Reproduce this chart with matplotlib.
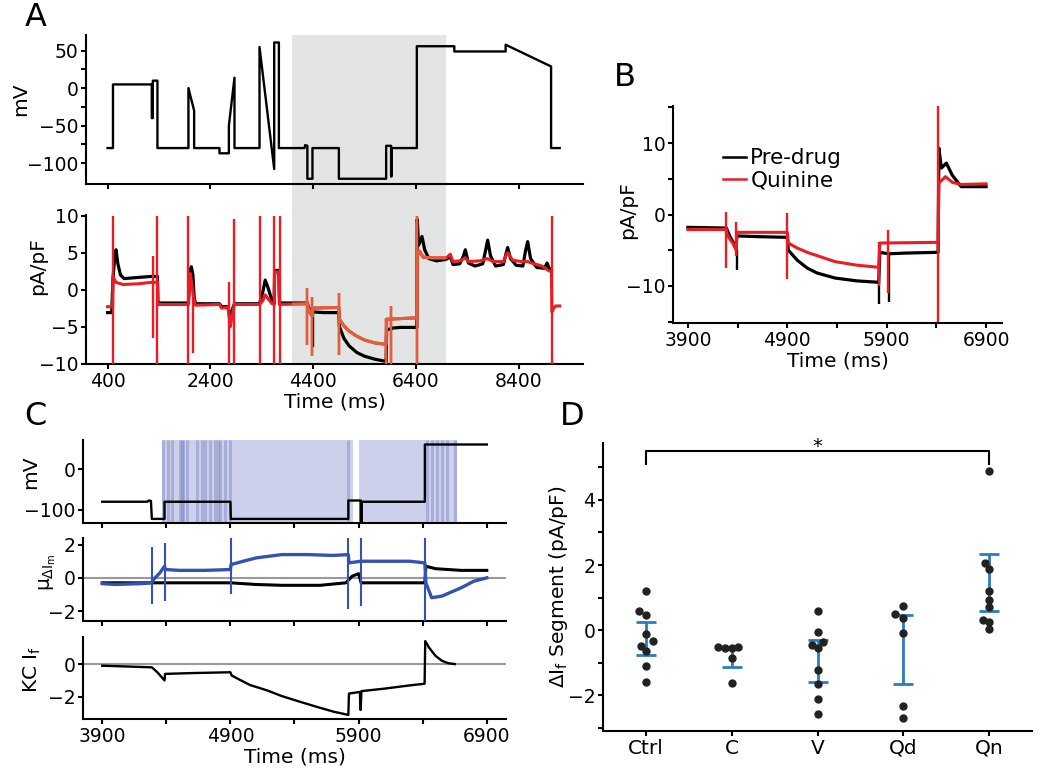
import matplotlib
matplotlib.use('Agg')
import matplotlib.pyplot as plt

plt.rcParams['font.family'] = ['DejaVu Sans']
plt.rcParams['mathtext.fontset'] = 'dejavusans'
plt.rcParams['axes.linewidth'] = 1.5

RED = '#ec1c24'
ORANGE = '#e0603c'
BLUE = '#3552b0'
EBLUE = '#2b7bbf'
SHADE = '#e3e4e4'
LAV = '#ccd0ea'

# ---- panel A: voltage protocol (ms, mV)
a_prot = [(400, -80), (505, -80), (505, 5), (1260, 5), (1260, -40), (1280, -40), (1280, 10),
          (1370, 10), (1370, -80), (1973, -80), (1973, 0), (2084, -30), (2084, -80), (2577, -80),
          (2577, -87), (2760, -87), (2760, -50), (2869, 14), (2869, -80), (3356, -80), (3356, 55),
          (3642, -108), (3642, 61), (3733, 61), (3733, -80), (4232, -80), (4245, -76), (4287, -77),
          (4287, -121), (4386, -121), (4386, -80), (4900, -80), (4900, -121), (5820, -121),
          (5820, -77), (5916, -77), (5916, -118), (5925, -118), (5925, -80), (6417, -80),
          (6417, 56), (7146, 56), (7146, 49), (8145, 49), (8145, 58), (9029, 29), (9029, -80),
          (9197, -80)]

# ---- panel A: current traces (ms, pA/pF)
a_black = [(400, -3.1), (480, -3.1), (505, 1.5), (540, 4.5), (565, 5.4), (600, 3.5), (650, 2.0),
           (720, 1.5), (900, 1.6), (1260, 1.8), (1370, 1.8), (1380, -1.8), (1973, -1.8),
           (2000, 2.5), (2030, 3.1), (2060, 2.0), (2084, -1.0), (2110, -1.9), (2577, -1.9),
           (2620, -2.3), (2740, -2.3), (2780, -3.8), (2830, -2.6), (2869, -1.9), (3356, -1.9),
           (3420, -0.3), (3467, 1.3), (3520, 0.3), (3600, -1.5), (3642, -1.8), (3650, 2.6),
           (3730, 2.6), (3745, -1.8), (4287, -1.8), (4300, -2.2), (4350, -3.0), (4386, -3.4),
           (4395, -3.0), (4600, -3.1), (4900, -3.1), (4910, -5.0), (5000, -6.6), (5100, -7.6),
           (5250, -8.5), (5400, -9.0), (5600, -9.4), (5820, -9.7), (5830, -5.4), (5916, -5.3),
           (5930, -5.2), (6100, -5.1), (6417, -5.1), (6425, 9.5), (6450, 6.0), (6517, 7.2),
           (6570, 5.4), (6650, 4.2), (6800, 3.9), (6990, 4.1), (7068, 4.5), (7120, 3.4),
           (7250, 3.5), (7320, 4.5), (7361, 5.4), (7420, 3.6), (7550, 3.2), (7700, 3.5),
           (7760, 5.5), (7795, 6.7), (7850, 4.6), (7950, 3.2), (8100, 3.4), (8150, 4.8),
           (8184, 5.7), (8240, 4.2), (8350, 3.3), (8480, 3.2), (8530, 5.2), (8573, 6.5),
           (8630, 4.2), (8750, 3.0), (8900, 2.9), (8951, 3.6), (8990, 2.9), (9035, 2.7)]
a_red = [(400, -2.3), (500, -2.3), (505, 1.8), (560, 1.0), (700, 0.7), (1000, 0.8), (1260, 1.0),
         (1370, 1.0), (1380, -2.0), (1973, -2.0), (2010, 2.2), (2071, -1.0), (2110, -2.1),
         (2577, -2.0), (2620, -2.5), (2740, -2.4), (2790, -5.0), (2840, -2.8), (2869, -2.0),
         (3356, -2.0), (3420, -1.5), (3467, -0.7), (3520, -1.2), (3600, -1.9), (3642, -2.0),
         (3650, 2.4), (3730, 2.4), (3745, -2.0), (4287, -1.9), (4300, -2.4), (4350, -3.3),
         (4386, -3.6), (4395, -2.5), (4900, -2.4), (4910, -4.0), (5000, -4.9), (5100, -5.6),
         (5250, -6.3), (5400, -6.8), (5600, -7.2), (5820, -7.4), (5830, -4.0), (6417, -3.8),
         (6425, 4.5), (6470, 5.2), (6540, 4.4), (6700, 4.3), (6990, 4.3), (7068, 4.8),
         (7120, 3.8), (7250, 3.9), (7361, 4.3), (7420, 3.8), (7650, 3.9), (7795, 4.2),
         (7900, 3.8), (8100, 3.8), (8150, 4.6), (8184, 5.0), (8280, 4.0), (8450, 3.8),
         (8573, 3.8), (8650, 3.6), (8850, 3.2), (8980, 2.6), (9035, 2.4), (9045, -3.0),
         (9080, -2.5), (9120, -2.2), (9197, -2.2)]
a_red_spk_t = [505, 1280, 1370, 1973, 2071, 2760, 2869, 3356, 3629, 3745, 4287, 4386, 4900, 5820, 5916, 6417, 9045]
a_red_spk_lo = [-10, -6.5, -10, -10, -8.5, -10, -10, -10, -10, -10, -7.5, -9, -8.8, -10, -10, -10, -10]
a_red_spk_hi = [10, 4.5, 10, 10, 0, 1, 9.5, 10, 10, 10, 0.2, -1, -0.4, -3.8, -2.2, 10, 10]
a_blk_spk_t = [4390, 5825]
a_blk_spk_lo = [-7.7, -10]
a_blk_spk_hi = [-3.4, -9.7]
a_shade = (3990, 6990)

# ---- panel B
b_black = [(3900, -1.8), (4287, -1.9), (4320, -3.0), (4360, -4.0), (4386, -4.8), (4392, -3.0),
           (4600, -3.1), (4900, -3.2), (4910, -5.0), (5000, -6.4), (5100, -7.5), (5200, -8.2),
           (5380, -8.9), (5600, -9.3), (5820, -9.5), (5830, -5.3), (5916, -5.5), (5930, -5.5),
           (6100, -5.4), (6417, -5.3), (6425, 9.3), (6450, 6.5), (6500, 7.2), (6560, 5.5),
           (6650, 3.9), (6900, 3.9)]
b_red = [(3900, -2.1), (4287, -2.1), (4300, -3.0), (4350, -4.0), (4386, -5.0), (4392, -2.5),
         (4900, -2.5), (4910, -4.0), (5000, -4.7), (5100, -5.3), (5250, -6.0), (5380, -6.6),
         (5600, -7.1), (5820, -7.4), (5830, -4.0), (6417, -3.9), (6425, 4.4), (6490, 5.3),
         (6560, 4.5), (6650, 4.2), (6900, 4.3)]
b_red_spk_t = [4287, 4386, 4900, 5820, 5916, 6417]
b_red_spk_lo = [-7.5, -5.8, -9.0, -10.0, -11.0, -15.2]
b_red_spk_hi = [0.3, -1.0, 0.2, -3.8, -2.2, 15.2]
b_blk_spk_t = [4390, 5822, 5920]
b_blk_spk_lo = [-7.8, -12.5, -12.3]
b_blk_spk_hi = [-4.8, -9.5, -5.5]

# ---- panel C
c_prot = [(3900, -80), (4250, -80), (4265, -77), (4280, -78), (4287, -122), (4386, -122),
          (4386, -80), (4900, -80), (4903, -122), (5820, -122), (5820, -77), (5916, -77),
          (5916, -128), (5925, -128), (5925, -80), (6417, -80), (6417, 60), (6900, 60)]
c_spans = [(4370, 5856), (5905, 6670)]
c_dark = [4378, 4410, 4443, 4508, 4520, 4534, 4560, 4640, 4677, 4700, 4742, 4781, 4800,
          4820, 4859, 4898, 5820, 6431, 6470, 6509, 6548, 6587, 6652]
c_blue = [(3900, -0.35), (4000, -0.4), (4200, -0.35), (4287, -0.3), (4300, -0.1), (4350, 0.3),
          (4386, 0.7), (4392, 0.5), (4500, 0.45), (4700, 0.45), (4900, 0.5), (4905, 0.8),
          (5000, 1.0), (5100, 1.2), (5300, 1.4), (5500, 1.4), (5700, 1.35), (5820, 1.4),
          (5825, 0.9), (5916, 1.0), (6100, 1.0), (6300, 1.0), (6417, 0.9), (6425, -0.3),
          (6470, -1.2), (6550, -1.1), (6700, -0.6), (6800, -0.2), (6900, 0.0)]
c_black = [(3900, -0.3), (4300, -0.3), (4900, -0.3), (5100, -0.4), (5300, -0.45), (5600, -0.45),
           (5800, -0.3), (5850, 0.1), (5900, 0.25), (5920, -0.3), (6417, -0.3), (6425, 0.7),
           (6500, 0.55), (6700, 0.45), (6900, 0.45)]
c_spk_t = [4287, 4386, 4903, 5820, 5916, 6417]
c_spk_lo = [-1.6, -1.4, -1.0, -1.9, -1.7, -2.6]
c_spk_hi = [1.85, 2.1, 2.4, 2.4, 2.4, 2.4]
c_kc = [(3900, -0.1), (4100, -0.15), (4287, -0.2), (4330, -0.5), (4386, -1.0), (4390, -0.6),
        (4600, -0.55), (4900, -0.5), (4910, -0.7), (4976, -0.97), (5054, -1.28), (5184, -1.6),
        (5300, -1.95), (5443, -2.3), (5570, -2.6), (5703, -2.9), (5820, -3.1), (5825, -1.8),
        (5910, -1.7), (5916, -2.8), (5922, -1.65), (6100, -1.5), (6300, -1.3), (6415, -1.2),
        (6420, 1.4), (6450, 1.0), (6500, 0.5), (6550, 0.2), (6600, 0.05), (6650, 0.0)]

# ---- panel D
groups = ['Ctrl', 'C', 'V', 'Qd', 'Qn']
d_vals = [[1.2, 0.58, 0.46, -0.12, -0.34, -0.49, -0.65, -1.1, -1.6],
          [-0.53, -0.55, -0.55, -0.53, -0.87, -1.61],
          [0.58, -0.07, -0.45, -0.38, -0.55, -1.23, -1.66, -2.12, -2.58],
          [0.48, 0.74, 0.36, -0.1, -2.34, -2.7],
          [4.9, 2.05, 1.87, 1.2, 0.92, 0.7, 0.31, 0.26, 0.02]]
d_offs = [[0, -0.08, 0, 0, 0.08, -0.06, 0, 0, 0],
          [-0.155, -0.078, 0, 0.078, 0, 0],
          [0, 0, -0.06, 0.06, 0, 0, 0, 0, 0],
          [-0.1, 0, 0, 0, 0, 0],
          [0, -0.05, 0, 0, 0, 0, -0.07, 0, 0]]
d_mean = [-0.245, -0.84, -0.95, -0.605, 1.46]
d_sd = [0.505, 0.29, 0.64, 1.065, 0.87]

fig = plt.figure(figsize=(10.5, 7.8), dpi=100)
W, H = 1050, 780


def add_ax(l, t, r, b):
    ax = fig.add_axes([l / W, 1 - b / H, (r - l) / W, (b - t) / H])
    ax.set_facecolor('none')
    ax.spines[['top', 'right']].set_visible(False)
    ax.tick_params(which='both', labelsize=13.5, length=3.5, width=1.5, pad=2)
    return ax


def xy(pairs):
    return [p[0] for p in pairs], [p[1] for p in pairs]


# A top
ax = add_ax(86, 35, 583, 184)
ax.axvspan(*a_shade, ymin=-0.208, ymax=1, color=SHADE, lw=0, zorder=0, clip_on=False)
ax.plot(*xy(a_prot), color='k', lw=1.7)
ax.set_xlim(-20, 9650)
ax.set_ylim(-128, 71)
ax.set_xticks([400, 2400, 4400, 6400, 8400])
ax.set_xticklabels([])
ax.set_yticks([-100, -50, 0, 50])
ax.set_yticks([-75, -25, 25], minor=True)
ax.set_ylabel('mV', fontsize=14.5)
ax.yaxis.set_label_coords(-0.113, 0.57)

# A bottom
ax = add_ax(86, 215, 583, 364)
span = ax.axvspan(*a_shade, color=SHADE, lw=0, zorder=0)
ax.plot(*xy(a_black), color='k', lw=2.3, zorder=2)
ax.vlines(a_blk_spk_t, a_blk_spk_lo, a_blk_spk_hi, color='k', lw=1.7, zorder=2)
ax.plot(*xy(a_red), color=RED, lw=2.2, zorder=3)
ax.vlines(a_red_spk_t, a_red_spk_lo, a_red_spk_hi, color=RED, lw=1.7, zorder=3)
ln = ax.plot(*xy(a_red), color=ORANGE, lw=2.2, zorder=4)[0]
ln.set_clip_path(span)
vl = ax.vlines(a_red_spk_t, a_red_spk_lo, a_red_spk_hi, color=ORANGE, lw=1.7, zorder=4)
vl.set_clip_path(span)
ax.set_xlim(-20, 9650)
ax.set_ylim(-10.05, 10.1)
ax.set_xticks([400, 2400, 4400, 6400, 8400])
ax.set_yticks([-10, -5, 0, 5, 10])
ax.set_xlabel('Time (ms)', fontsize=14.5, labelpad=1)
ax.set_ylabel('pA/pF', fontsize=14.5)
ax.yaxis.set_label_coords(-0.078, 0.66)

# B
ax = add_ax(673, 106, 1002, 323)
ax.plot(*xy(b_black), color='k', lw=2.3, label='Pre-drug')
ax.vlines(b_blk_spk_t, b_blk_spk_lo, b_blk_spk_hi, color='k', lw=1.7)
ax.plot(*xy(b_red), color=RED, lw=2.2, label='Quinine')
ax.vlines(b_red_spk_t, b_red_spk_lo, b_red_spk_hi, color=RED, lw=1.7)
ax.set_xlim(3750, 7060)
ax.set_ylim(-15.2, 15.2)
ax.set_xticks([3900, 4900, 5900, 6900])
ax.set_xticks([4400, 5400, 6400], minor=True)
ax.set_yticks([-10, 0, 10])
ax.set_yticks([-15, -5, 5, 15], minor=True)
ax.set_xlabel('Time (ms)', fontsize=14.5, labelpad=1)
ax.set_ylabel('pA/pF', fontsize=14.5)
ax.yaxis.set_label_coords(-0.109, 0.52)
leg = ax.legend(loc='upper left', bbox_to_anchor=(0.152, 0.806), frameon=False, fontsize=15.5,
                handlelength=1.07, handletextpad=0.2, borderpad=0, borderaxespad=0, labelspacing=0.1)
for h in leg.get_lines():
    h.set_linewidth(1.8)

# C
cax = [add_ax(83, 440, 506, 523), add_ax(83, 538, 506, 621), add_ax(83, 637, 506, 719)]
for a in cax:
    a.set_xlim(3750, 7050)
    a.set_xticks([3900, 4900, 5900, 6900])
    a.set_xticks([4400, 5400, 6400], minor=True)
for a in cax[:2]:
    a.set_xticklabels([])

ax = cax[0]
for s0, s1 in c_spans:
    ax.axvspan(s0, s1, color=LAV, lw=0, zorder=0)
ax.vlines(c_dark, 0, 1, transform=ax.get_xaxis_transform(), color='#7d86c8', alpha=0.45,
          lw=2.2, zorder=0.5)
ax.plot(*xy(c_prot), color='k', lw=1.7, zorder=2)
ax.set_ylim(-132, 71)
ax.set_yticks([-100, 0])
ax.set_ylabel('mV', fontsize=14.5)
ax.yaxis.set_label_coords(-0.102, 0.61)

ax = cax[1]
ax.axhline(0, color='#999999', lw=1.5, zorder=1)
ax.plot(*xy(c_black), color='k', lw=2.2, zorder=2)
ax.plot(*xy(c_blue), color=BLUE, lw=2.4, zorder=3)
ax.vlines(c_spk_t, c_spk_lo, c_spk_hi, color=BLUE, lw=1.5, zorder=3)
ax.set_ylim(-2.6, 2.4)
ax.set_yticks([-2, 0, 2])
ax.set_ylabel(r'μ$_{\Delta\mathrm{I}_\mathrm{m}}$', fontsize=14.5)
ax.yaxis.set_label_coords(-0.059, 0.59)

ax = cax[2]
ax.axhline(0, color='#999999', lw=1.5, zorder=1)
ax.plot(*xy(c_kc), color='k', lw=1.7, zorder=2)
ax.set_ylim(-3.35, 1.65)
ax.set_yticks([-2, 0])
ax.set_xlabel('Time (ms)', fontsize=14.5, labelpad=1)
ax.set_ylabel(r'KC I$_\mathrm{f}$', fontsize=14.5)
ax.yaxis.set_label_coords(-0.095, 0.6)

# D
ax = add_ax(603, 443, 1032, 731)
ax.errorbar(range(len(groups)), d_mean, yerr=d_sd, fmt='none', ecolor=EBLUE, elinewidth=2,
            capsize=7, capthick=2, zorder=3)
for i, (vals, offs) in enumerate(zip(d_vals, d_offs)):
    ax.plot([i + o for o in offs], vals, 'o', color='#222222', ms=5, zorder=4)
ax.plot([0, 0, 4, 4], [5.1, 5.5, 5.5, 5.1], color='k', lw=1.5, clip_on=False)
ax.text(2, 5.48, '*', ha='center', va='baseline', fontsize=14)
ax.set_xlim(-0.5, 4.5)
ax.set_ylim(-3.1, 5.75)
ax.set_xticks(range(len(groups)))
ax.set_xticklabels(groups, fontsize=14.5)
ax.set_yticks([-2, 0, 2, 4])
ax.set_yticks([-3, -1, 1, 3, 5], minor=True)
ax.set_ylabel(r'ΔI$_\mathrm{f}$ Segment (pA/pF)', fontsize=14.5)
ax.yaxis.set_label_coords(-0.077, 0.5)

for lab, x, y in [('A', 25, 2), ('B', 614, 62), ('C', 24, 401), ('D', 560, 401)]:
    fig.text(x / W, 1 - y / H, lab, fontsize=23, va='top', ha='left')

fig.savefig('out.png', dpi=100)
